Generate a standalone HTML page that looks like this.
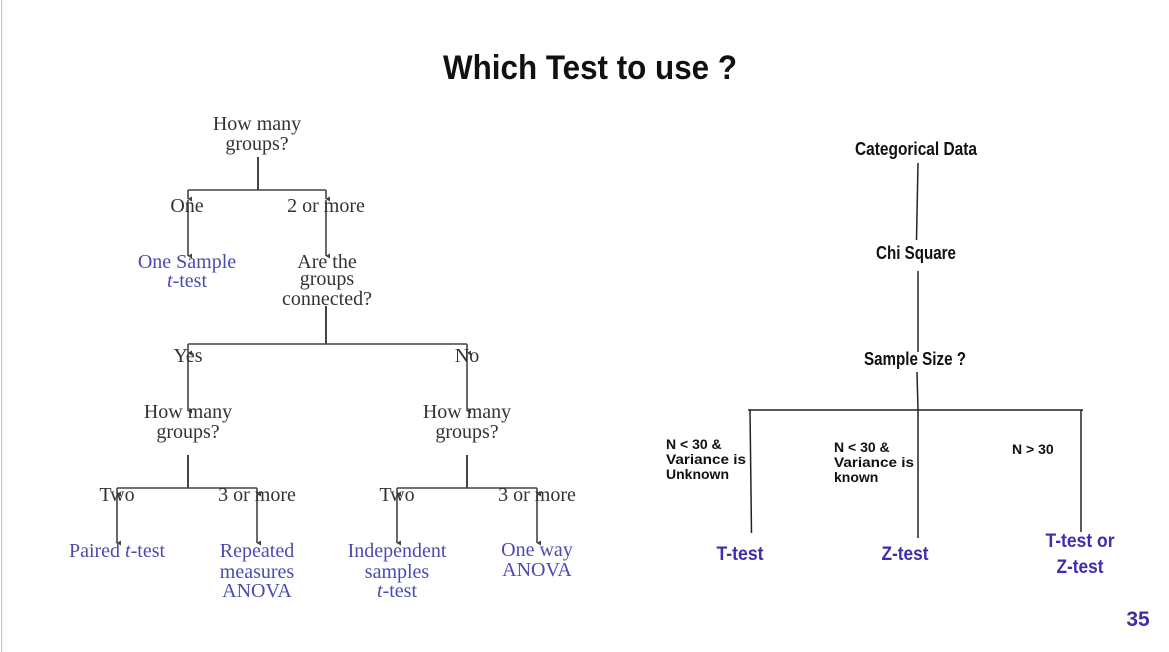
<!DOCTYPE html>
<html><head><meta charset="utf-8"><style>
html,body{margin:0;padding:0;background:#fff;}
svg{display:block;}
.s{font-family:"Liberation Serif",serif;font-size:20px;fill:#333;text-anchor:middle;}
.b{fill:#4a4ab0;}
.c{font-family:"Liberation Sans",sans-serif;font-weight:bold;fill:#111;}
.n{font-family:"Liberation Sans",sans-serif;font-weight:bold;font-size:14px;fill:#111;}
.p{font-family:"Liberation Sans",sans-serif;font-weight:bold;fill:#3d2db0;}
</style></head><body>
<svg width="1169" height="652" viewBox="0 0 1169 652" xmlns="http://www.w3.org/2000/svg">
<defs><marker id="a" markerWidth="6" markerHeight="6" refX="3" refY="5" orient="auto" markerUnits="userSpaceOnUse"><path d="M0.5,1 L3,5.5 L5.5,1 Z" fill="#444"/></marker></defs>
<rect x="1" y="0" width="1.2" height="652" fill="#c8c8c8"/>
<text class="c" x="590" y="79" font-size="34" text-anchor="middle" textLength="294" lengthAdjust="spacingAndGlyphs">Which Test to use ?</text>

<g stroke="#444" stroke-width="1.6" fill="none">
<line x1="258" y1="157" x2="258" y2="190" stroke-width="2"/>
<line x1="188" y1="190" x2="326" y2="190"/>
<line x1="188" y1="190" x2="188" y2="199" marker-end="url(#a)"/>
<line x1="326" y1="190" x2="326" y2="199" marker-end="url(#a)"/>
<line x1="188" y1="200" x2="188" y2="256" marker-end="url(#a)"/>
<line x1="326" y1="200" x2="326" y2="256" marker-end="url(#a)"/>
<line x1="326" y1="306" x2="326" y2="344" stroke-width="2"/>
<line x1="188" y1="344" x2="467" y2="344"/>
<line x1="188" y1="344" x2="188" y2="353" marker-end="url(#a)"/>
<line x1="467" y1="344" x2="467" y2="353" marker-end="url(#a)"/>
<line x1="188" y1="354" x2="188" y2="411" marker-end="url(#a)"/>
<line x1="467" y1="354" x2="467" y2="411" marker-end="url(#a)"/>
<line x1="188" y1="455" x2="188" y2="488" stroke-width="2"/>
<line x1="467" y1="455" x2="467" y2="488" stroke-width="2"/>
<line x1="117" y1="488" x2="257" y2="488"/>
<line x1="397" y1="488" x2="537" y2="488"/>
<line x1="117" y1="488" x2="117" y2="494" marker-end="url(#a)"/>
<line x1="257" y1="488" x2="257" y2="494" marker-end="url(#a)"/>
<line x1="397" y1="488" x2="397" y2="494" marker-end="url(#a)"/>
<line x1="537" y1="488" x2="537" y2="494" marker-end="url(#a)"/>
<line x1="117" y1="495" x2="117" y2="543" marker-end="url(#a)"/>
<line x1="257" y1="495" x2="257" y2="543" marker-end="url(#a)"/>
<line x1="397" y1="495" x2="397" y2="543" marker-end="url(#a)"/>
<line x1="537" y1="495" x2="537" y2="543" marker-end="url(#a)"/>
</g>
<text class="s" x="257" y="130">How many</text>
<text class="s" x="257" y="150">groups?</text>
<text class="s" x="187" y="212">One</text>
<text class="s" x="326" y="212">2 or more</text>
<text class="s b" x="187" y="268">One Sample</text>
<text class="s b" x="187" y="287"><tspan font-style="italic">t</tspan>-test</text>
<text class="s" x="327" y="268">Are the</text>
<text class="s" x="327" y="285">groups</text>
<text class="s" x="327" y="305">connected?</text>
<text class="s" x="188" y="362">Yes</text>
<text class="s" x="467" y="362">No</text>
<text class="s" x="188" y="418">How many</text>
<text class="s" x="188" y="438">groups?</text>
<text class="s" x="467" y="418">How many</text>
<text class="s" x="467" y="438">groups?</text>
<text class="s" x="117" y="501">Two</text>
<text class="s" x="257" y="501">3 or more</text>
<text class="s" x="397" y="501">Two</text>
<text class="s" x="537" y="501">3 or more</text>
<text class="s b" x="117" y="557">Paired <tspan font-style="italic">t</tspan>-test</text>
<text class="s b" x="257" y="557">Repeated</text>
<text class="s b" x="257" y="578">measures</text>
<text class="s b" x="257" y="597">ANOVA</text>
<text class="s b" x="397" y="557">Independent</text>
<text class="s b" x="397" y="578">samples</text>
<text class="s b" x="397" y="597"><tspan font-style="italic">t</tspan>-test</text>
<text class="s b" x="537" y="556">One way</text>
<text class="s b" x="537" y="576">ANOVA</text>

<g stroke="#222" stroke-width="1.5">
<line x1="918" y1="163" x2="916.5" y2="240"/>
<line x1="918" y1="271" x2="918" y2="352"/>
<line x1="917" y1="372" x2="918" y2="410"/>
<line x1="748" y1="410" x2="1083" y2="410"/>
<line x1="750" y1="410" x2="751.5" y2="533"/>
<line x1="918" y1="410" x2="918" y2="538"/>
<line x1="1081" y1="410" x2="1081" y2="532"/>
</g>
<text class="c" x="916" y="155" font-size="18" text-anchor="middle" textLength="122" lengthAdjust="spacingAndGlyphs">Categorical Data</text>
<text class="c" x="916" y="259" font-size="18" text-anchor="middle" textLength="80" lengthAdjust="spacingAndGlyphs">Chi Square</text>
<text class="c" x="915" y="365" font-size="18" text-anchor="middle" textLength="102" lengthAdjust="spacingAndGlyphs">Sample Size ?</text>
<text class="n" x="666" y="449">N &lt; 30 &amp;</text>
<text class="n" x="666" y="464" textLength="80" lengthAdjust="spacingAndGlyphs">Variance is</text>
<text class="n" x="666" y="479">Unknown</text>
<text class="n" x="834" y="452">N &lt; 30 &amp;</text>
<text class="n" x="834" y="467" textLength="80" lengthAdjust="spacingAndGlyphs">Variance is</text>
<text class="n" x="834" y="482">known</text>
<text class="n" x="1012" y="454">N &gt; 30</text>
<text class="p" x="740" y="560" font-size="19" text-anchor="middle" textLength="47" lengthAdjust="spacingAndGlyphs">T-test</text>
<text class="p" x="905" y="560" font-size="19" text-anchor="middle" textLength="47" lengthAdjust="spacingAndGlyphs">Z-test</text>
<text class="p" x="1080" y="547" font-size="19" text-anchor="middle" textLength="69" lengthAdjust="spacingAndGlyphs">T-test or</text>
<text class="p" x="1080" y="573" font-size="19" text-anchor="middle" textLength="47" lengthAdjust="spacingAndGlyphs">Z-test</text>
<text x="1138" y="626" font-family="Liberation Sans,sans-serif" font-weight="bold" font-size="21" fill="#3d30a8" text-anchor="middle">35</text>
</svg>
</body></html>
